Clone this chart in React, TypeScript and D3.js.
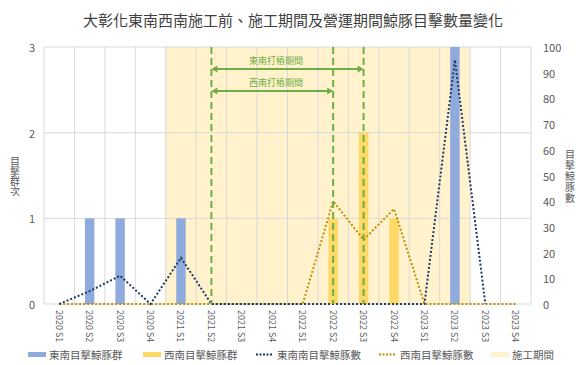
import React from "react";
import * as d3 from "d3";

const categories = [
  "2020 S1", "2020 S2", "2020 S3", "2020 S4",
  "2021 S1", "2021 S2", "2021 S3", "2021 S4",
  "2022 S1", "2022 S2", "2022 S3", "2022 S4",
  "2023 S1", "2023 S2", "2023 S3", "2023 S4",
];
// 東南目擊鯨豚群 (left axis)
const seGroups = [0, 1, 1, 0, 1, 0, 0, 0, 0, 0, 0, 0, 0, 3, 0, 0];
// 西南目擊鯨豚群 (left axis)
const swGroups = [0, 0, 0, 0, 0, 0, 0, 0, 0, 1, 2, 1, 0, 0, 0, 0];
// 東南目擊鯨豚數 (right axis)
const seCount: (number | null)[] = [0, 5, 11, 0, 18, 0, 0, 0, 0, 0, 0, 0, 0, 95, 0, null];
// 西南目擊鯨豚數 (right axis)
const swCount = [0, 0, 0, 0, 0, 0, 0, 0, 0, 40, 25, 37, 0, 0, 0, 0];
// 施工期間
const constructionStart = "2021 S1";
const constructionEnd = "2023 S2";
// 打樁期間 markers
const pilingStart = "2021 S2";
const swPilingEnd = "2022 S2";
const sePilingEnd = "2022 S3";

const leftTicks = [0, 1, 2, 3];
const rightTicks = [0, 10, 20, 30, 40, 50, 60, 70, 80, 90, 100];

const title = "大彰化東南西南施工前、施工期間及營運期間鯨豚目擊數量變化";
const leftTitle = "目擊群次";
const rightTitle = "目擊鯨豚數";

const FONT = "'Noto Sans CJK TC', 'Noto Sans', sans-serif";
const C_BLUE_BAR = "#8FAADC";
const C_YEL_BAR = "#FFD966";
const C_SHADE = "#FFF2CC";
const C_BLUE_LINE = "#203864";
const C_YEL_LINE = "#BF9000";
const C_GREEN = "#70AD47";
const C_GRID = "#D9D9D9";
const C_TEXT = "#595959";

export default function App() {
  const W = 576, H = 365;
  const L = 44, R = 531, T = 47, B = 304;
  const x = d3.scaleBand<string>().domain(categories).range([L, R]).padding(0);
  const bw = x.bandwidth();
  const cx = (c: string) => (x(c) as number) + bw / 2;
  const yL = d3.scaleLinear().domain([0, 3]).range([B, T]);
  const yR = d3.scaleLinear().domain([0, 100]).range([B, T]);
  const barW = bw * 0.31;

  const lineGen = d3
    .line<number | null>()
    .defined((d) => d !== null)
    .x((_, i) => cx(categories[i]))
    .y((d) => yR(d as number));

  const shadeX0 = x(constructionStart) as number;
  const shadeX1 = (x(constructionEnd) as number) + bw;

  const xs = cx(pilingStart);
  const xsw = cx(swPilingEnd);
  const xse = cx(sePilingEnd);

  const arrow = (x0: number, x1: number, y: number) => {
    const ah = 6, aw = 3.5;
    return (
      <g>
        <line x1={x0 + 2} x2={x1 - 2} y1={y} y2={y} stroke={C_GREEN} strokeWidth={2} />
        <path d={`M${x0},${y} L${x0 + ah},${y - aw} L${x0 + ah},${y + aw} Z`} fill={C_GREEN} />
        <path d={`M${x1},${y} L${x1 - ah},${y - aw} L${x1 - ah},${y + aw} Z`} fill={C_GREEN} />
      </g>
    );
  };

  const legendY = 354.5;
  const legendItems = [
    { kind: "rect", color: C_BLUE_BAR, x: 28, label: "東南目擊鯨豚群" },
    { kind: "rect", color: C_YEL_BAR, x: 143, label: "西南目擊鯨豚群" },
    { kind: "line", color: C_BLUE_LINE, x: 256, label: "東南南目擊鯨豚數" },
    { kind: "line", color: C_YEL_LINE, x: 379, label: "西南目擊鯨豚數" },
    { kind: "rect", color: C_SHADE, x: 491, label: "施工期間" },
  ];

  return (
    <svg width={W} height={H} style={{ position: "absolute", left: 0, top: 0, background: "#fff" }} fontFamily={FONT}>
      <rect width={W} height={H} fill="#fff" />
      <text x={293} y={19} textAnchor="middle" dominantBaseline="central" fontSize={15} fill="#404040">
        {title}
      </text>

      {/* construction shading */}
      <rect x={shadeX0} y={T} width={shadeX1 - shadeX0} height={B - T} fill={C_SHADE} />

      {/* gridlines */}
      {leftTicks.map((t) => (
        <line key={"h" + t} x1={L} x2={R} y1={yL(t)} y2={yL(t)} stroke={C_GRID} strokeWidth={1} />
      ))}
      {categories.map((c) => (
        <line key={"v" + c} x1={x(c) as number} x2={x(c) as number} y1={T} y2={B} stroke={C_GRID} strokeWidth={1} />
      ))}
      <line x1={R} x2={R} y1={T} y2={B} stroke={C_GRID} strokeWidth={1} />

      {/* bars */}
      {seGroups.map((v, i) =>
        v > 0 ? (
          <rect key={"sb" + i} x={cx(categories[i]) - barW / 2} y={yL(v)} width={barW} height={B - yL(v)} fill={C_BLUE_BAR} />
        ) : null
      )}
      {swGroups.map((v, i) =>
        v > 0 ? (
          <rect key={"wb" + i} x={cx(categories[i]) - barW / 2} y={yL(v)} width={barW} height={B - yL(v)} fill={C_YEL_BAR} />
        ) : null
      )}

      {/* lines */}
      <path d={lineGen(swCount) || ""} fill="none" stroke={C_YEL_LINE} strokeWidth={2} strokeDasharray="2 2" />
      <path d={lineGen(seCount) || ""} fill="none" stroke={C_BLUE_LINE} strokeWidth={2} strokeDasharray="2 2" />

      {/* piling markers */}
      {[xs, xsw, xse].map((xx, i) => (
        <line key={"g" + i} x1={xx} x2={xx} y1={T} y2={B} stroke={C_GREEN} strokeWidth={2} strokeDasharray="7 4" />
      ))}
      {arrow(xs, xse, 69)}
      {arrow(xs, xsw, 91)}
      <text x={276} y={60.5} textAnchor="middle" dominantBaseline="central" fontSize={9} fill={C_GREEN}>
        東南打樁期間
      </text>
      <text x={276} y={82.5} textAnchor="middle" dominantBaseline="central" fontSize={9} fill={C_GREEN}>
        西南打樁期間
      </text>

      {/* left axis */}
      {leftTicks.map((t) => (
        <text key={"lt" + t} x={35} y={yL(t)} textAnchor="end" dominantBaseline="central" fontSize={11} fill={C_TEXT}>
          {t}
        </text>
      ))}
      {/* right axis */}
      {rightTicks.map((t) => (
        <text key={"rt" + t} x={543} y={yR(t)} textAnchor="start" dominantBaseline="central" fontSize={11} fill={C_TEXT}>
          {t}
        </text>
      ))}
      {/* axis titles (vertical, upright) */}
      <text
        x={15}
        y={176}
        textAnchor="middle"
        fontSize={10}
        fill={C_TEXT}
        style={{ writingMode: "vertical-rl", textOrientation: "upright" } as React.CSSProperties}
      >
        {leftTitle}
      </text>
      <text
        x={570}
        y={177}
        textAnchor="middle"
        fontSize={10}
        letterSpacing={1}
        fill={C_TEXT}
        style={{ writingMode: "vertical-rl", textOrientation: "upright" } as React.CSSProperties}
      >
        {rightTitle}
      </text>

      {/* x labels */}
      {categories.map((c) => (
        <text key={"xl" + c} transform={`translate(${cx(c)},310) rotate(90)`} textAnchor="start" dominantBaseline="central" fontSize={9} fill={C_TEXT}>
          {c}
        </text>
      ))}

      {/* legend */}
      {legendItems.map((it) => (
        <g key={it.label}>
          {it.kind === "rect" ? (
            <rect x={it.x} y={legendY - 2.5} width={18} height={5} fill={it.color} />
          ) : (
            <line x1={it.x} x2={it.x + 17} y1={legendY} y2={legendY} stroke={it.color} strokeWidth={2} strokeDasharray="2 1.5" />
          )}
          <text x={it.x + 21} y={legendY} dominantBaseline="central" fontSize={10.5} fill={C_TEXT}>
            {it.label}
          </text>
        </g>
      ))}
    </svg>
  );
}
